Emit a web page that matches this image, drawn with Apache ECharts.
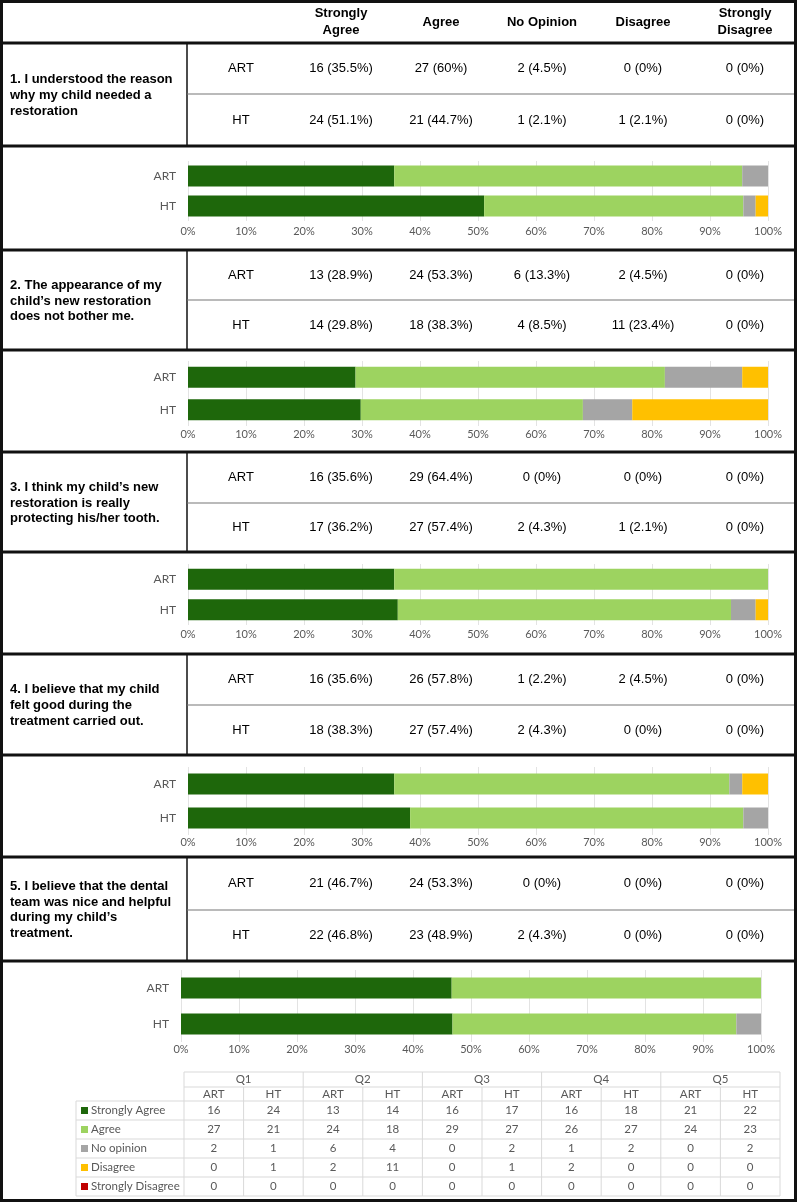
<!DOCTYPE html>
<html>
<head>
<meta charset="utf-8">
<script src="https://cdn.jsdelivr.net/npm/echarts@6/dist/echarts.min.js"></script>
<style>
html,body{margin:0;padding:0;background:#fff;}
#main{width:797px;height:1203px;}
</style>
</head>
<body>
<div id="main"></div>
<script>
// ---------------- DATA ----------------
const groups = ['ART', 'HT'];
const responses = ['Strongly Agree', 'Agree', 'No Opinion', 'Disagree', 'Strongly Disagree'];
const legendNames = ['Strongly Agree', 'Agree', 'No opinion', 'Disagree', 'Strongly Disagree'];
const questionIds = ['Q1', 'Q2', 'Q3', 'Q4', 'Q5'];
const questionTexts = [
  '1. I understood the reason\nwhy my child needed a\nrestoration',
  '2. The appearance of my\nchild\u2019s new restoration\ndoes not bother me.',
  '3. I think my child\u2019s new\nrestoration is really\nprotecting his/her tooth.',
  '4. I believe that my child\nfelt good during the\ntreatment carried out.',
  '5. I believe that the dental\nteam was nice and helpful\nduring my child\u2019s\ntreatment.'
];
// counts: [Strongly Agree, Agree, No opinion, Disagree, Strongly Disagree]
const artCounts = [
  [16, 27, 2, 0, 0],
  [13, 24, 6, 2, 0],
  [16, 29, 0, 0, 0],
  [16, 26, 1, 2, 0],
  [21, 24, 0, 0, 0]
];
const htCounts = [
  [24, 21, 1, 1, 0],
  [14, 18, 4, 11, 0],
  [17, 27, 2, 1, 0],
  [18, 27, 2, 0, 0],
  [22, 23, 2, 0, 0]
];
// percentages as printed in the upper table
const artPctText = [
  ['35.5', '60', '4.5', '0', '0'],
  ['28.9', '53.3', '13.3', '4.5', '0'],
  ['35.6', '64.4', '0', '0', '0'],
  ['35.6', '57.8', '2.2', '4.5', '0'],
  ['46.7', '53.3', '0', '0', '0']
];
const htPctText = [
  ['51.1', '44.7', '2.1', '2.1', '0'],
  ['29.8', '38.3', '8.5', '23.4', '0'],
  ['36.2', '57.4', '4.3', '2.1', '0'],
  ['38.3', '57.4', '4.3', '0', '0'],
  ['46.8', '48.9', '4.3', '0', '0']
];

// ---------------- STYLE / LAYOUT ----------------
const colors = ['#1e670b', '#9dd360', '#a5a5a5', '#ffc000', '#c00000'];
const TXT = '"Liberation Sans", Arial, sans-serif';
const CHF = 'Lato, "Open Sans", sans-serif';
const AX = '#595959';

const blocks = [
  {top: 43, div: 94, bottom: 146},
  {top: 250, div: 300, bottom: 350},
  {top: 452, div: 503, bottom: 552},
  {top: 654, div: 705, bottom: 755},
  {top: 857, div: 910, bottom: 961}
];
const grids = [
  {left: 188, top: 161, height: 60, margin: 5},
  {left: 188, top: 361, height: 65, margin: 3},
  {left: 188, top: 564, height: 61, margin: 4},
  {left: 188, top: 767, height: 68, margin: 2},
  {left: 181, top: 970, height: 72, margin: 2}
];
const colX = [341, 441, 542, 643, 745];

function pct(counts) {
  const t = counts.reduce((a, b) => a + b, 0);
  return counts.map(c => c / t * 100);
}

const g = [];
function line(x1, y1, x2, y2, w, c) {
  g.push({type: 'line', silent: true, shape: {x1, y1, x2, y2}, style: {stroke: c, lineWidth: w}});
}
function text(x, y, s, font, fill, align, lh) {
  g.push({type: 'text', silent: true, x, y, style: {text: s, font, fill, align: align || 'center', verticalAlign: 'middle', lineHeight: lh || 16}});
}

// header
text(colX[0], 22, 'Strongly\nAgree', 'bold 13px ' + TXT, '#000', 'center', 17);
text(colX[1], 22, 'Agree', 'bold 13px ' + TXT, '#000');
text(colX[2], 22, 'No Opinion', 'bold 13px ' + TXT, '#000');
text(colX[3], 22, 'Disagree', 'bold 13px ' + TXT, '#000');
text(colX[4], 22, 'Strongly\nDisagree', 'bold 13px ' + TXT, '#000', 'center', 17);

// question tables
blocks.forEach((b, q) => {
  line(187, b.top, 187, b.bottom, 1.5, '#111');
  line(187, b.div, 796, b.div, 1.2, '#777');
  text(10, (b.top + b.bottom) / 2 + 1, questionTexts[q], 'bold 13px ' + TXT, '#000', 'left', 15.6);
  const yA = (b.top + b.div) / 2, yH = (b.div + b.bottom) / 2;
  text(241, yA, groups[0], '13px ' + TXT, '#000');
  text(241, yH, groups[1], '13px ' + TXT, '#000');
  for (let r = 0; r < 5; r++) {
    text(colX[r], yA, artCounts[q][r] + ' (' + artPctText[q][r] + '%)', '13px ' + TXT, '#000');
    text(colX[r], yH, htCounts[q][r] + ' (' + htPctText[q][r] + '%)', '13px ' + TXT, '#000');
  }
});

// thick separators
[43, 146, 250, 350, 452, 552, 654, 755, 857, 961].forEach(y => line(0, y, 797, y, 3, '#111'));
g.push({type: 'rect', silent: true, shape: {x: 1.5, y: 1.5, width: 794, height: 1199}, style: {fill: 'none', stroke: '#111', lineWidth: 3}});

// bottom data table
const tL = 76, tLab = 184, tR = 780;
const cw = (tR - tLab) / 10;
const rowsY = [1072, 1087, 1101, 1120, 1139, 1158, 1177, 1196];
const lc = '#d9d9d9';
const DF = '11.5px ' + CHF;
line(tLab, rowsY[0], tR, rowsY[0], 1, lc);
line(tLab, rowsY[1], tR, rowsY[1], 1, lc);
for (let i = 2; i < rowsY.length; i++) line(tL, rowsY[i], tR, rowsY[i], 1, lc);
line(tL, rowsY[2], tL, rowsY[7], 1, lc);
for (let k = 0; k <= 10; k++) {
  const x = tLab + k * cw;
  if (k % 2 === 0) line(x, rowsY[0], x, rowsY[7], 1, lc);
  else line(x, rowsY[1], x, rowsY[7], 1, lc);
}
questionIds.forEach((id, q) => {
  text(tLab + (2 * q + 1) * cw, (rowsY[0] + rowsY[1]) / 2, id, DF, AX);
  text(tLab + (2 * q + 0.5) * cw, (rowsY[1] + rowsY[2]) / 2, groups[0], DF, AX);
  text(tLab + (2 * q + 1.5) * cw, (rowsY[1] + rowsY[2]) / 2, groups[1], DF, AX);
});
legendNames.forEach((name, r) => {
  const yc = (rowsY[2 + r] + rowsY[3 + r]) / 2;
  g.push({type: 'rect', silent: true, shape: {x: 81, y: yc - 3.5, width: 7, height: 7}, style: {fill: colors[r]}});
  text(91, yc, name, DF, AX, 'left');
  questionIds.forEach((id, q) => {
    text(tLab + (2 * q + 0.5) * cw, yc, String(artCounts[q][r]), DF, AX);
    text(tLab + (2 * q + 1.5) * cw, yc, String(htCounts[q][r]), DF, AX);
  });
});

// ---------------- CHART ----------------
const option = {
  animation: false,
  backgroundColor: '#fff',
  grid: grids.map(gr => ({left: gr.left, width: 580, top: gr.top, height: gr.height, containLabel: false})),
  xAxis: grids.map((gr, i) => ({
    type: 'value', gridIndex: i, min: 0, max: 100, interval: 10,
    axisLine: {show: false}, axisTick: {show: false},
    splitLine: {lineStyle: {color: '#e3e3e3', width: 1}},
    axisLabel: {formatter: '{value}%', color: AX, fontFamily: CHF, fontSize: 11, margin: gr.margin}
  })),
  yAxis: grids.map((gr, i) => ({
    type: 'category', gridIndex: i, data: groups, inverse: true,
    axisLine: {show: false}, axisTick: {show: false},
    axisLabel: {color: AX, fontFamily: CHF, fontSize: 12, margin: 12}
  })),
  series: [],
  graphic: {elements: g}
};
questionIds.forEach((id, q) => {
  const a = pct(artCounts[q]), h = pct(htCounts[q]);
  responses.forEach((name, r) => {
    option.series.push({
      type: 'bar', name, xAxisIndex: q, yAxisIndex: q, stack: id,
      barWidth: 21, silent: true,
      itemStyle: {color: colors[r]},
      data: [a[r], h[r]]
    });
  });
});

const chart = echarts.init(document.getElementById('main'), null, {renderer: 'canvas'});
chart.setOption(option);
</script>
</body>
</html>
